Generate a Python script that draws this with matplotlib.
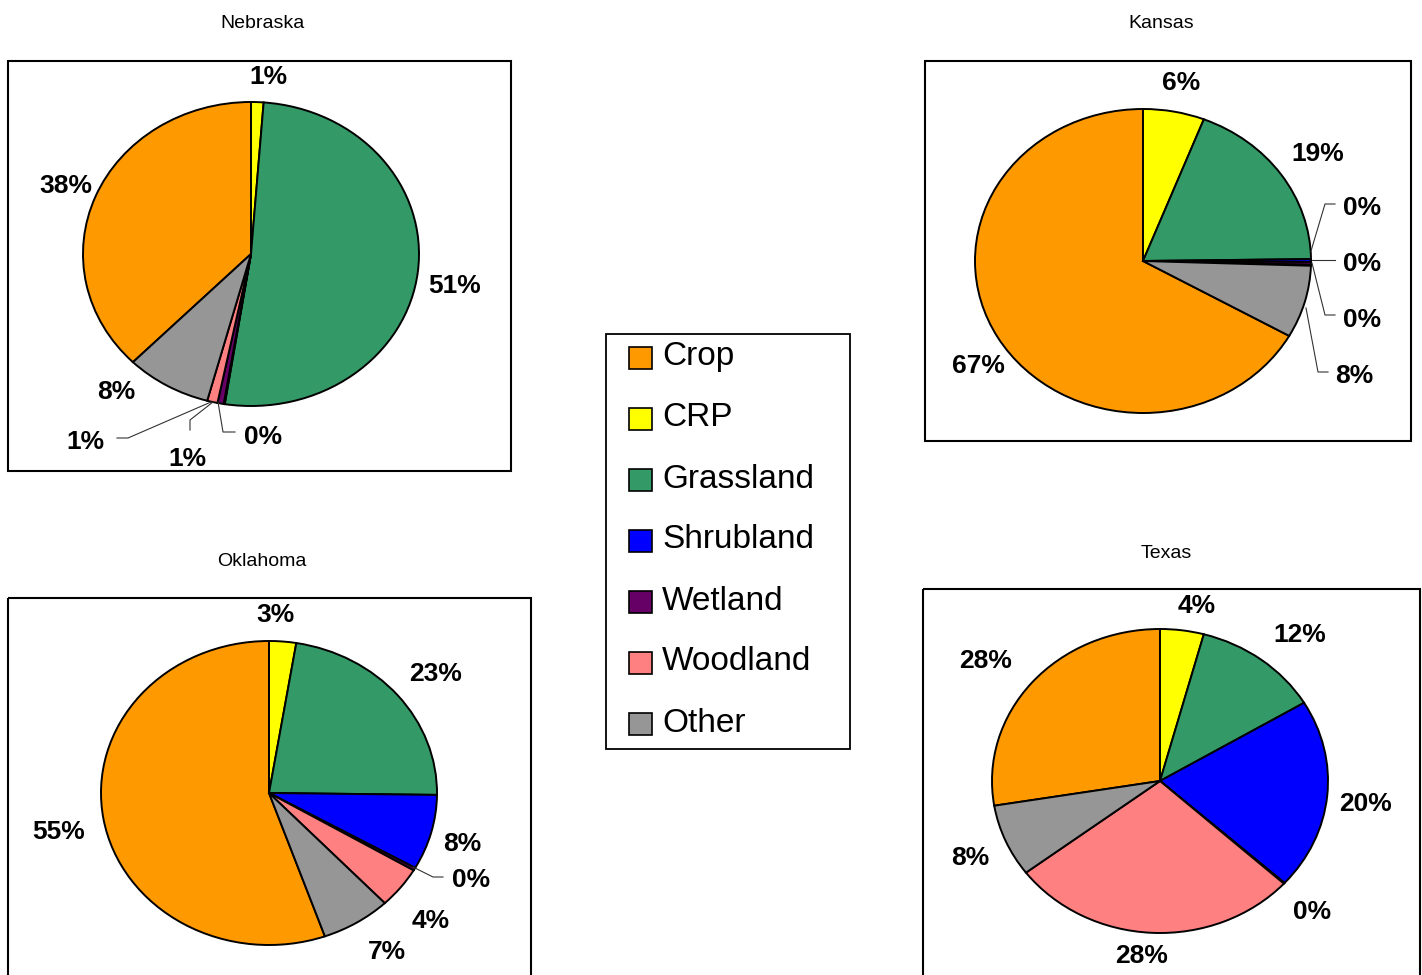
import matplotlib
matplotlib.use("Agg")
import matplotlib.pyplot as plt
from matplotlib.patches import Rectangle

plt.rcParams['font.family'] = ['Liberation Sans', 'DejaVu Sans']

categories = ["Crop", "CRP", "Grassland", "Shrubland", "Wetland", "Woodland", "Other"]
colors = ["#FF9900", "#FFFF00", "#339966", "#0000FF", "#660066", "#FF8080", "#969696"]

states = ["Nebraska", "Kansas", "Oklahoma", "Texas"]
nebraska = [37.6, 1.2, 51.3, 0.1, 0.6, 1.0, 8.2]
kansas = [66.8, 5.9, 18.9, 0.3, 0.3, 0.1, 7.7]
oklahoma = [55.4, 2.6, 22.6, 8.0, 0.3, 4.4, 6.7]
texas = [27.6, 4.2, 12.2, 20.3, 0.1, 27.9, 7.7]
shares = [nebraska, kansas, oklahoma, texas]

W, H = 1422, 975
RX, RY = 168, 152

# layout in pixels (title, frame, pie centre, label spots in category order, leader lines)
layout = {
    "Nebraska": dict(
        title=(262, 20), box=(8, 61, 511, 471), center=(251, 254),
        labels=[(66, 184), (268, 75), (455, 284), (263, 435), (187, 457), (85, 440), (116, 390)],
        leaders=[[(218, 402), (223, 432), (235, 432)],
                 [(213, 402), (190, 420), (190, 430)],
                 [(211, 402), (128, 438), (117, 438)]]),
    "Kansas": dict(
        title=(1161, 20), box=(925, 61, 1411, 441), center=(1143, 261),
        labels=[(978, 364), (1181, 81), (1318, 152), (1362, 206), (1362, 262), (1362, 318), (1354, 374)],
        leaders=[[(1311, 251), (1325, 204), (1335, 204)],
                 [(1312, 260), (1335, 260)],
                 [(1312, 263), (1325, 315), (1335, 315)],
                 [(1306, 308), (1318, 372), (1328, 372)]]),
    "Oklahoma": dict(
        title=(262, 558), box=(8, 598, 531, 990), center=(269, 793),
        labels=[(59, 830), (275, 613), (436, 672), (462, 842), (471, 878), (431, 919), (387, 950)],
        leaders=[[(413, 867), (433, 877), (443, 877)]]),
    "Texas": dict(
        title=(1166, 550), box=(923, 589, 1420, 990), center=(1160, 781),
        labels=[(986, 659), (1197, 604), (1300, 633), (1365, 802), (1312, 910), (1142, 954), (970, 856)],
        leaders=[]),
}

fig = plt.figure(figsize=(W / 100, H / 100), dpi=100)

pad = 1.05
for state, vals in zip(states, shares):
    cx, cy = layout[state]["center"]
    ax = fig.add_axes([(cx - RX * pad) / W, 1 - (cy + RY * pad) / H,
                       2 * RX * pad / W, 2 * RY * pad / H])
    start = 90 + 360 * vals[0] / sum(vals)
    ax.pie(vals, colors=colors, startangle=start, counterclock=False,
           wedgeprops=dict(edgecolor="black", linewidth=1.4))
    ax.set_aspect("auto")
    ax.set_xlim(-pad, pad)
    ax.set_ylim(-pad, pad)

# overlay in pixel coordinates for frames, titles, labels and legend
ov = fig.add_axes([0, 0, 1, 1], zorder=5)
ov.set_xlim(0, W)
ov.set_ylim(H, 0)
ov.axis("off")

for state, vals in zip(states, shares):
    lay = layout[state]
    x0, y0, x1, y1 = lay["box"]
    ov.add_patch(Rectangle((x0, y0), x1 - x0, y1 - y0, fill=False,
                           edgecolor="black", linewidth=1.5))
    tx, ty = lay["title"]
    ov.text(tx, ty + 3, state, ha="center", va="center", fontsize=14)
    total = sum(vals)
    for v, (lx, ly) in zip(vals, lay["labels"]):
        ov.text(lx, ly + 2, "{:.0f}%".format(100 * v / total), ha="center", va="center",
                fontsize=19, fontweight="bold")
    for line in lay["leaders"]:
        xs = [p[0] for p in line]
        ys = [p[1] for p in line]
        ov.plot(xs, ys, color="#333333", linewidth=0.8)

# legend
ov.add_patch(Rectangle((606, 334), 244, 415, fill=False, edgecolor="black", linewidth=1.3))
for i, (cat, col) in enumerate(zip(categories, colors)):
    yc = 358 + i * 61
    ov.add_patch(Rectangle((629, yc - 11), 23, 22, facecolor=col,
                           edgecolor="black", linewidth=1.2))
    ov.text(662, yc - 1, cat, ha="left", va="center", fontsize=24)

fig.savefig("out.png", dpi=100)
